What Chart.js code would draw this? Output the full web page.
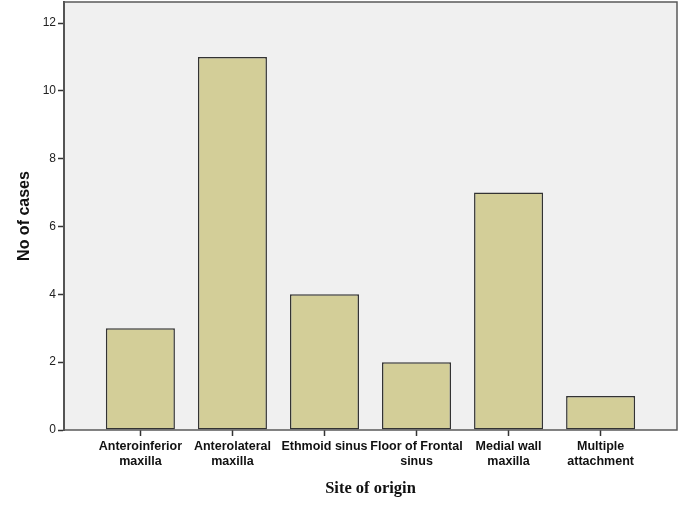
<!DOCTYPE html>
<html>
<head>
<meta charset="utf-8">
<script src="https://cdn.jsdelivr.net/npm/chart.js@4"></script>
<style>
html,body{margin:0;padding:0;background:#fff;}
#wrap{width:685px;height:513px;}
</style>
</head>
<body>
<div id="wrap"><canvas id="c" width="685" height="513"></canvas></div>
<script>
const categories = [
  ["Anteroinferior", "maxilla"],
  ["Anterolateral", "maxilla"],
  ["Ethmoid sinus"],
  ["Floor of Frontal", "sinus"],
  ["Medial wall", "maxilla"],
  ["Multiple", "attachment"]
];
const cases = [3, 11, 4, 2, 7, 1];
const yTicks = [0, 2, 4, 6, 8, 10, 12];

const plotBg = {
  id: 'plotBg',
  beforeDraw(chart) {
    const {ctx, chartArea: a} = chart;
    ctx.save();
    ctx.fillStyle = '#F0F0F0';
    ctx.fillRect(a.left, a.top, a.right - a.left, a.bottom - a.top);
    ctx.restore();
  },
  afterDraw(chart) {
    const {ctx, chartArea: a} = chart;
    ctx.save();
    ctx.strokeStyle = '#5a5a5a';
    ctx.lineWidth = 1.5;
    ctx.strokeRect(a.left, a.top, a.right - a.left, a.bottom - a.top);
    ctx.restore();
  }
};

new Chart(document.getElementById('c'), {
  type: 'bar',
  data: {
    datasets: [{
      data: cases.map((v, i) => ({x: i, y: v})),
      backgroundColor: 'rgb(211,206,152)',
      borderColor: '#333333',
      borderWidth: 1.5,
      borderSkipped: false,
      barPercentage: 0.75,
      categoryPercentage: 1
    }]
  },
  plugins: [plotBg],
  options: {
    responsive: false,
    animation: false,
    devicePixelRatio: 1,
    layout: {padding: {left: 0, right: 8, top: 2, bottom: 0}},
    plugins: {legend: {display: false}, tooltip: {enabled: false}},
    scales: {
      x: {
        type: 'linear',
        offset: false,
        min: -0.83,
        max: 5.83,
        afterBuildTicks(s) { s.ticks = categories.map((c, i) => ({value: i})); },
        afterFit(s) { s.height = 83; s.paddingLeft = 0; s.paddingRight = 0; },
        ticks: {
          includeBounds: false,
          autoSkip: false,
          maxRotation: 0,
          padding: 3,
          color: '#111',
          font: {family: 'Liberation Sans', size: 12.5, weight: 'bold', lineHeight: 1.22},
          callback: (v) => categories[v]
        },
        grid: {offset: false, drawOnChartArea: false, tickLength: 6, tickColor: '#333', tickWidth: 1.5},
        border: {display: false},
        title: {
          display: true,
          text: 'Site of origin',
          color: '#111',
          font: {family: 'Liberation Serif', size: 16.5, weight: 'bold', lineHeight: 1.2},
          padding: {top: 0, bottom: 14}
        }
      },
      y: {
        min: 0,
        max: 12.62,
        afterBuildTicks(s) { s.ticks = yTicks.map(v => ({value: v})); },
        afterFit(s) { s.width = 64; s.paddingTop = 0; s.paddingBottom = 0; },
        ticks: {
          includeBounds: false,
          padding: 2,
          color: '#222',
          font: {family: 'Liberation Sans', size: 12}
        },
        grid: {drawOnChartArea: false, tickLength: 6, tickColor: '#333', tickWidth: 1.5},
        border: {display: true, color: '#444', width: 2},
        title: {
          display: true,
          text: 'No of cases',
          color: '#111',
          font: {family: 'Liberation Sans', size: 16, weight: 'bold', lineHeight: 1.2},
          padding: {top: 14.5, bottom: 0}
        }
      }
    }
  }
});
</script>
</body>
</html>
